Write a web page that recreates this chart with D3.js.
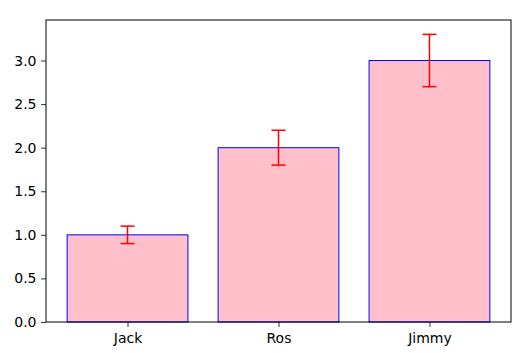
<!DOCTYPE html>
<html><head><meta charset="utf-8">
<script src="https://cdn.jsdelivr.net/npm/d3@7"></script>
<style>body{margin:0;background:#fff}svg{display:block}text{font-family:"DejaVu Sans",sans-serif}</style>
</head><body><svg id="c" width="528" height="353"></svg>
<script>
const categories = ["Jack", "Ros", "Jimmy"];
const values = [1.0, 2.0, 3.0];
const errors = [0.1, 0.2, 0.3];
const yTicks = [0, 0.5, 1.0, 1.5, 2.0, 2.5, 3.0];

const svg = d3.select("#c");
const L = 46, R = 511, T = 20, B = 322;
const x = d3.scaleLinear().domain([-0.54, 2.54]).range([L, R]);
const y = d3.scaleLinear().domain([0, 3.465]).range([B, T]);
const bw = 0.8;

const g = svg.append("g");
g.selectAll("rect.bar").data(values).join("rect")
  .attr("x", (d,i) => x(i - bw/2)).attr("width", (d,i) => x(i + bw/2) - x(i - bw/2))
  .attr("y", d => y(d)).attr("height", d => y(0) - y(d))
  .attr("fill", "pink").attr("stroke", "blue").attr("stroke-width", 1);

const eb = g.selectAll("g.err").data(values).join("g").attr("stroke", "red").attr("stroke-width", 1.5);
eb.append("line").attr("x1", (d,i)=>x(i)).attr("x2", (d,i)=>x(i))
  .attr("y1", (d,i)=>y(d - errors[i])).attr("y2", (d,i)=>y(d + errors[i]));
eb.append("line").attr("x1", (d,i)=>x(i)-7).attr("x2", (d,i)=>x(i)+7)
  .attr("y1", (d,i)=>y(d - errors[i])).attr("y2", (d,i)=>y(d - errors[i]));
eb.append("line").attr("x1", (d,i)=>x(i)-7).attr("x2", (d,i)=>x(i)+7)
  .attr("y1", (d,i)=>y(d + errors[i])).attr("y2", (d,i)=>y(d + errors[i]));

const yAxis = d3.axisLeft(y).tickValues(yTicks).tickFormat(d3.format(".1f")).tickSize(5).tickPadding(4.5);
const ya = svg.append("g").attr("transform", `translate(${L},0)`).call(yAxis);
const xAxis = d3.axisBottom(x).tickValues([0,1,2]).tickFormat(i => categories[i]).tickSize(5).tickPadding(6.5);
const xa = svg.append("g").attr("transform", `translate(0,${B})`).call(xAxis);
[ya, xa].forEach(a => {
  a.select(".domain").remove();
  a.selectAll("text").attr("font-size", 14).attr("fill", "#000").attr("font-family", "DejaVu Sans");
  a.selectAll("line").attr("stroke", "#000").attr("stroke-width", 0.8);
});
svg.append("rect").attr("x", L).attr("y", T).attr("width", R-L).attr("height", B-T)
  .attr("fill", "none").attr("stroke", "#000").attr("stroke-width", 1);
</script></body></html>
